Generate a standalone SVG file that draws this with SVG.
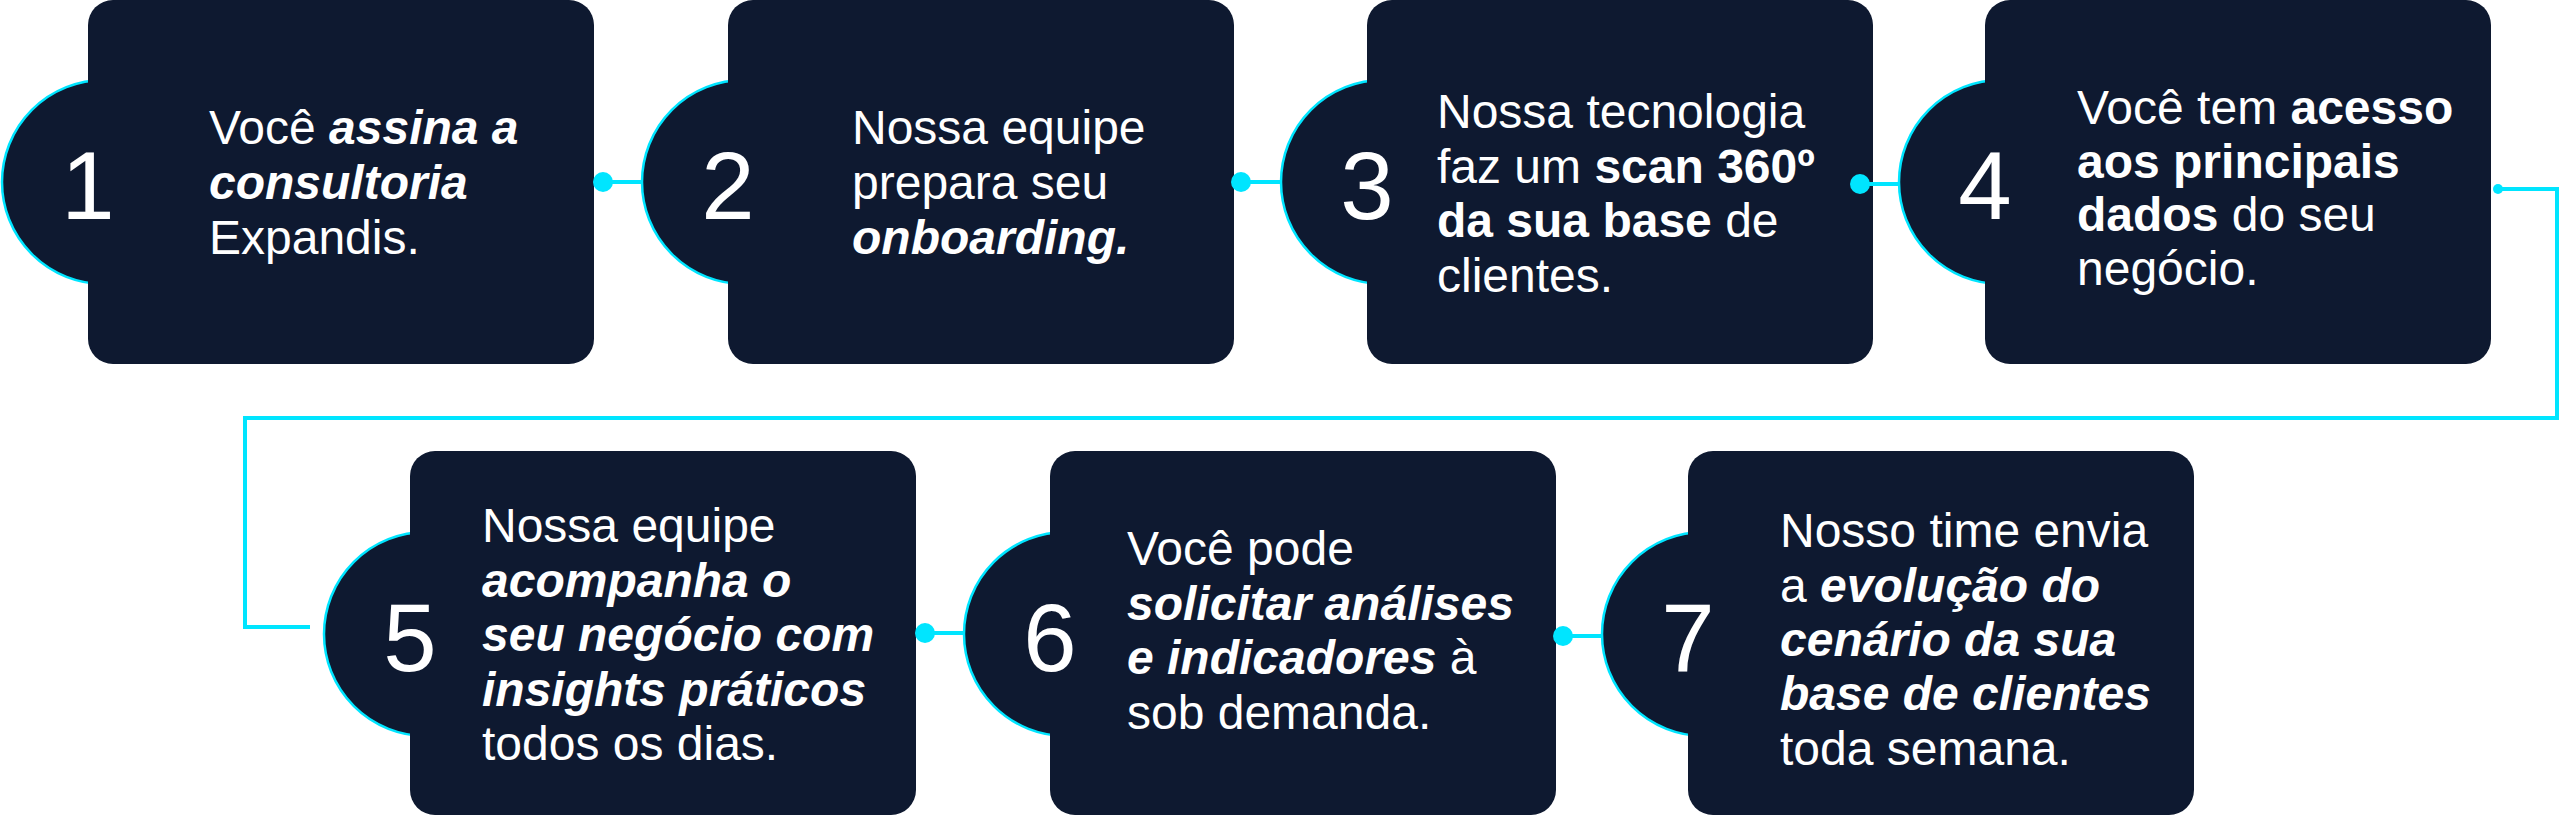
<svg xmlns="http://www.w3.org/2000/svg" width="2560" height="816" viewBox="0 0 2560 816">
<style>
.card{fill:#0E1930}
.bub{fill:#0E1930;stroke:#00E5FF;stroke-width:2.5}
.num{font-family:"Liberation Sans",Arial,sans-serif;font-size:96px;fill:#fff;text-anchor:middle}
.txt{font-family:"Liberation Sans",Arial,sans-serif;font-size:48px;fill:#fff}
.bi{font-weight:bold;font-style:italic}
.b{font-weight:bold}
.conn{stroke:#00E5FF;stroke-width:4;fill:none}
.dot{fill:#00E5FF}
</style>
<rect width="2560" height="816" fill="#fff"/>
<g id="step1">
<circle class="bub" cx="104" cy="182" r="102"/>
<rect class="card" x="88" y="0" width="506" height="364" rx="25"/>
<text class="num" x="88" y="219">1</text>
<text class="txt" x="209"><tspan x="209" y="144">Você <tspan class="bi">assina a</tspan></tspan><tspan x="209" y="199" class="bi">consultoria</tspan><tspan x="209" y="254">Expandis.</tspan></text>
</g>
<g id="step2">
<circle class="bub" cx="744" cy="182" r="102"/>
<rect class="card" x="728" y="0" width="506" height="364" rx="25"/>
<text class="num" x="728" y="219">2</text>
<text class="txt"><tspan x="852" y="144">Nossa equipe</tspan><tspan x="852" y="199">prepara seu</tspan><tspan x="852" y="254" class="bi">onboarding.</tspan></text>
</g>
<g id="step3">
<circle class="bub" cx="1383" cy="182" r="102"/>
<rect class="card" x="1367" y="0" width="506" height="364" rx="25"/>
<text class="num" x="1367" y="219">3</text>
<text class="txt"><tspan x="1437" y="128">Nossa tecnologia</tspan><tspan x="1437" y="183">faz um <tspan class="b">scan 360º</tspan></tspan><tspan x="1437" y="237"><tspan class="b">da sua base</tspan> de</tspan><tspan x="1437" y="292">clientes.</tspan></text>
</g>
<g id="step4">
<circle class="bub" cx="2001" cy="182" r="102"/>
<rect class="card" x="1985" y="0" width="506" height="364" rx="25"/>
<text class="num" x="1985" y="219">4</text>
<text class="txt"><tspan x="2077" y="124">Você tem <tspan class="b">acesso</tspan></tspan><tspan x="2077" y="178" class="b">aos principais</tspan><tspan x="2077" y="231"><tspan class="b">dados</tspan> do seu</tspan><tspan x="2077" y="285">negócio.</tspan></text>
</g>
<g id="step5">
<circle class="bub" cx="426" cy="634" r="102"/>
<rect class="card" x="410" y="451" width="506" height="364" rx="25"/>
<text class="num" x="410" y="671">5</text>
<text class="txt"><tspan x="482" y="542">Nossa equipe</tspan><tspan x="482" y="597" class="bi">acompanha o</tspan><tspan x="482" y="651" class="bi">seu negócio com</tspan><tspan x="482" y="706" class="bi">insights práticos</tspan><tspan x="482" y="760">todos os dias.</tspan></text>
</g>
<g id="step6">
<circle class="bub" cx="1066" cy="634" r="102"/>
<rect class="card" x="1050" y="451" width="506" height="364" rx="25"/>
<text class="num" x="1050" y="671">6</text>
<text class="txt"><tspan x="1127" y="565">Você pode</tspan><tspan x="1127" y="620" class="bi">solicitar análises</tspan><tspan x="1127" y="674"><tspan class="bi">e indicadores</tspan> à</tspan><tspan x="1127" y="729">sob demanda.</tspan></text>
</g>
<g id="step7">
<circle class="bub" cx="1704" cy="634" r="102"/>
<rect class="card" x="1688" y="451" width="506" height="364" rx="25"/>
<text class="num" x="1688" y="671">7</text>
<text class="txt"><tspan x="1780" y="547">Nosso time envia</tspan><tspan x="1780" y="602">a <tspan class="bi">evolução do</tspan></tspan><tspan x="1780" y="656" class="bi">cenário da sua</tspan><tspan x="1780" y="710" class="bi">base de clientes</tspan><tspan x="1780" y="765">toda semana.</tspan></text>
</g>
<g id="connectors">
<path class="conn" d="M603 182H643"/>
<circle class="dot" cx="603" cy="182" r="10"/>
<path class="conn" d="M1241 182H1282"/>
<circle class="dot" cx="1241" cy="182" r="10"/>
<path class="conn" d="M1860 184H1900"/>
<circle class="dot" cx="1860" cy="184" r="10"/>
<path class="conn" d="M2498 189H2557V418H245V627H310"/>
<circle class="dot" cx="2498" cy="189" r="5"/>
<path class="conn" d="M925 633H965"/>
<circle class="dot" cx="925" cy="633" r="10"/>
<path class="conn" d="M1563 636H1603"/>
<circle class="dot" cx="1563" cy="636" r="10"/>
</g>
</svg>
